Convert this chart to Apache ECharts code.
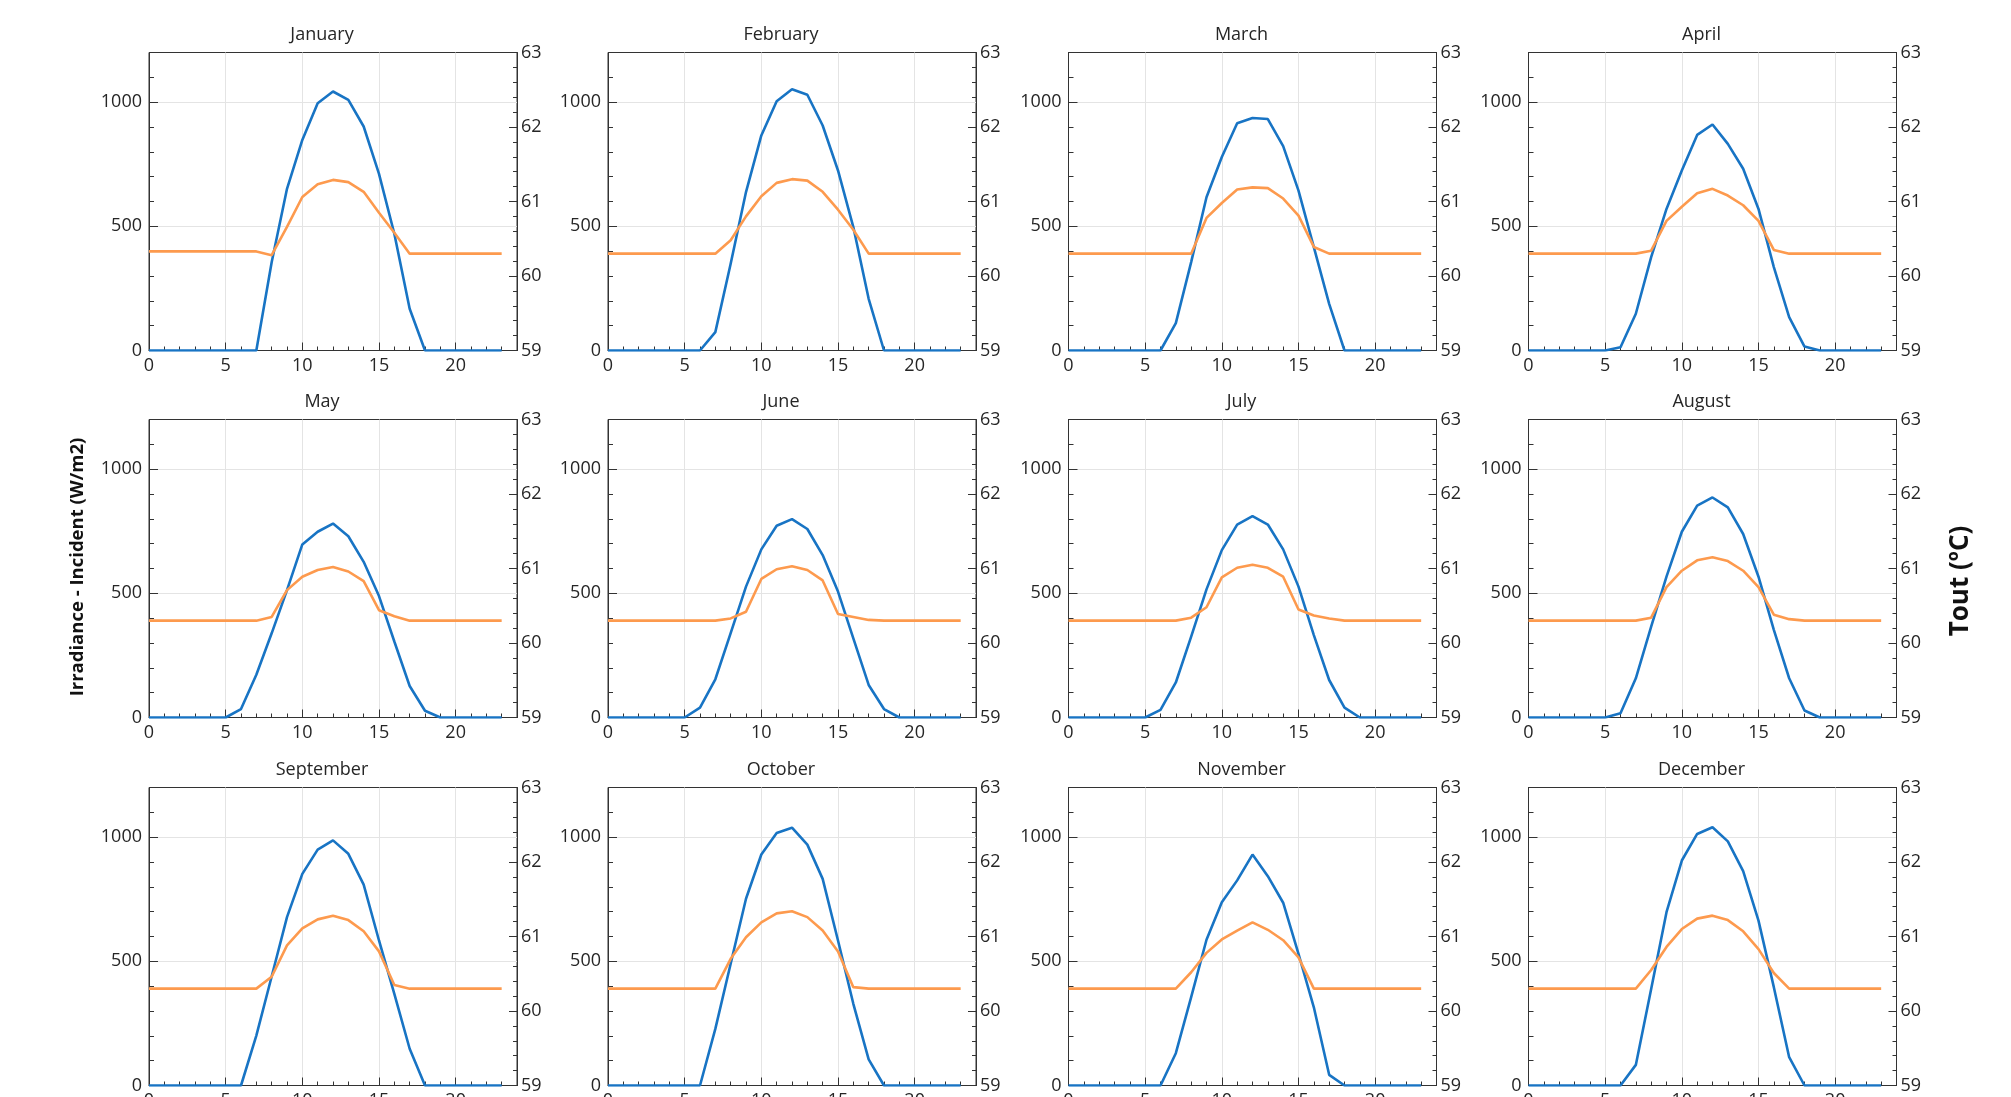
<!DOCTYPE html>
<html>
<head>
<meta charset="utf-8">
<title>Irradiance and Tout by month</title>
<script src="https://cdn.jsdelivr.net/npm/echarts@6.0.0/dist/echarts.min.js"></script>
<style>
  html, body { margin: 0; padding: 0; background: #fff; }
  #chart { width: 2011px; height: 1097px; }
</style>
</head>
<body>
<div id="chart"></div>
<script>
const months = ['January', 'February', 'March', 'April', 'May', 'June',
  'July', 'August', 'September', 'October', 'November', 'December'];
const hours = [0, 1, 2, 3, 4, 5, 6, 7, 8, 9, 10, 11, 12, 13, 14, 15, 16, 17, 18, 19, 20, 21, 22, 23];

// Irradiance - Incident (W/m2), hourly
const irrJan = [0, 0, 0, 0, 0, 0, 0, 0, 355, 651, 848, 996, 1043, 1009, 902, 711, 470, 168, 0, 0, 0, 0, 0, 0];
const irrFeb = [0, 0, 0, 0, 0, 0, 0, 74, 349, 638, 866, 1004, 1052, 1030, 906, 725, 497, 208, 0, 0, 0, 0, 0, 0];
const irrMar = [0, 0, 0, 0, 0, 0, 0, 110, 356, 617, 779, 915, 936, 932, 823, 644, 416, 188, 0, 0, 0, 0, 0, 0];
const irrApr = [0, 0, 0, 0, 0, 0, 13, 148, 376, 570, 725, 868, 910, 832, 732, 570, 336, 134, 16, 0, 0, 0, 0, 0];
const irrMay = [0, 0, 0, 0, 0, 0, 34, 172, 339, 513, 697, 748, 781, 730, 627, 489, 306, 127, 27, 0, 0, 0, 0, 0];
const irrJun = [0, 0, 0, 0, 0, 0, 40, 154, 340, 527, 677, 772, 799, 759, 654, 507, 319, 131, 34, 0, 0, 0, 0, 0];
const irrJul = [0, 0, 0, 0, 0, 0, 31, 141, 326, 516, 674, 777, 811, 777, 677, 527, 332, 151, 40, 0, 0, 0, 0, 0];
const irrAug = [0, 0, 0, 0, 0, 0, 17, 158, 366, 567, 748, 853, 886, 846, 739, 567, 353, 158, 28, 0, 0, 0, 0, 0];
const irrSep = [0, 0, 0, 0, 0, 0, 0, 201, 439, 678, 852, 950, 987, 933, 809, 584, 369, 148, 0, 0, 0, 0, 0, 0];
const irrOct = [0, 0, 0, 0, 0, 0, 0, 228, 490, 752, 930, 1017, 1038, 970, 832, 584, 329, 105, 0, 0, 0, 0, 0, 0];
const irrNov = [0, 0, 0, 0, 0, 0, 0, 130, 356, 587, 738, 826, 930, 843, 736, 530, 315, 43, 0, 0, 0, 0, 0, 0];
const irrDec = [0, 0, 0, 0, 0, 0, 0, 83, 389, 698, 906, 1013, 1040, 983, 863, 664, 396, 114, 0, 0, 0, 0, 0, 0];

// Tout (ºC), hourly
const toutJan = [60.33, 60.33, 60.33, 60.33, 60.33, 60.33, 60.33, 60.33, 60.28, 60.66, 61.06, 61.23, 61.29, 61.26, 61.13, 60.85, 60.58, 60.30, 60.30, 60.30, 60.30, 60.30, 60.30, 60.30];
const toutFeb = [60.30, 60.30, 60.30, 60.30, 60.30, 60.30, 60.30, 60.30, 60.48, 60.80, 61.07, 61.25, 61.30, 61.28, 61.13, 60.89, 60.62, 60.30, 60.30, 60.30, 60.30, 60.30, 60.30, 60.30];
const toutMar = [60.30, 60.30, 60.30, 60.30, 60.30, 60.30, 60.30, 60.30, 60.30, 60.78, 60.98, 61.16, 61.19, 61.18, 61.04, 60.81, 60.39, 60.30, 60.30, 60.30, 60.30, 60.30, 60.30, 60.30];
const toutApr = [60.30, 60.30, 60.30, 60.30, 60.30, 60.30, 60.30, 60.30, 60.34, 60.74, 60.93, 61.11, 61.17, 61.08, 60.95, 60.74, 60.35, 60.30, 60.30, 60.30, 60.30, 60.30, 60.30, 60.30];
const toutMay = [60.30, 60.30, 60.30, 60.30, 60.30, 60.30, 60.30, 60.30, 60.35, 60.71, 60.89, 60.98, 61.02, 60.96, 60.83, 60.44, 60.36, 60.30, 60.30, 60.30, 60.30, 60.30, 60.30, 60.30];
const toutJun = [60.30, 60.30, 60.30, 60.30, 60.30, 60.30, 60.30, 60.30, 60.33, 60.42, 60.86, 60.99, 61.03, 60.98, 60.84, 60.39, 60.35, 60.31, 60.30, 60.30, 60.30, 60.30, 60.30, 60.30];
const toutJul = [60.30, 60.30, 60.30, 60.30, 60.30, 60.30, 60.30, 60.30, 60.34, 60.48, 60.88, 61.01, 61.05, 61.01, 60.89, 60.45, 60.37, 60.33, 60.30, 60.30, 60.30, 60.30, 60.30, 60.30];
const toutAug = [60.30, 60.30, 60.30, 60.30, 60.30, 60.30, 60.30, 60.30, 60.34, 60.75, 60.97, 61.11, 61.15, 61.10, 60.97, 60.75, 60.38, 60.32, 60.30, 60.30, 60.30, 60.30, 60.30, 60.30];
const toutSep = [60.30, 60.30, 60.30, 60.30, 60.30, 60.30, 60.30, 60.30, 60.46, 60.88, 61.11, 61.23, 61.28, 61.22, 61.07, 60.80, 60.35, 60.30, 60.30, 60.30, 60.30, 60.30, 60.30, 60.30];
const toutOct = [60.30, 60.30, 60.30, 60.30, 60.30, 60.30, 60.30, 60.30, 60.70, 60.99, 61.19, 61.31, 61.34, 61.26, 61.08, 60.80, 60.32, 60.30, 60.30, 60.30, 60.30, 60.30, 60.30, 60.30];
const toutNov = [60.30, 60.30, 60.30, 60.30, 60.30, 60.30, 60.30, 60.30, 60.52, 60.78, 60.96, 61.08, 61.19, 61.09, 60.95, 60.72, 60.30, 60.30, 60.30, 60.30, 60.30, 60.30, 60.30, 60.30];
const toutDec = [60.30, 60.30, 60.30, 60.30, 60.30, 60.30, 60.30, 60.30, 60.55, 60.86, 61.10, 61.24, 61.28, 61.22, 61.07, 60.83, 60.51, 60.30, 60.30, 60.30, 60.30, 60.30, 60.30, 60.30];

const irradiance = [irrJan, irrFeb, irrMar, irrApr, irrMay, irrJun, irrJul, irrAug, irrSep, irrOct, irrNov, irrDec];
const tout = [toutJan, toutFeb, toutMar, toutApr, toutMay, toutJun, toutJul, toutAug, toutSep, toutOct, toutNov, toutDec];

// tick labels
const xTickLabels = [0, 5, 10, 15, 20];
const leftTickLabels = [0, 500, 1000];
const rightTickLabels = [59, 60, 61, 62, 63];

// half-pixel tops keep the 1px frame crisp
const colLeft = [149, 608, 1068.5, 1528.5];
const rowTop = [52.5, 419.5, 787.5];
const plotW = 368;
const plotH = 298;

const axisColor = '#333333';
const textColor = '#262626';
const gridColor = '#e4e4e4';
const fontFamily = '"Open Sans", "Noto Sans", sans-serif';
const labelStyle = { color: textColor, fontSize: 18, fontFamily: fontFamily };

const grids = [];
const xAxes = [];
const yAxes = [];
const series = [];
const graphics = [];

months.forEach((name, i) => {
  const left = colLeft[i % 4];
  const top = rowTop[Math.floor(i / 4)];

  grids.push({
    left: left, top: top, width: plotW, height: plotH,
    show: true, borderColor: axisColor, borderWidth: 1,
    outerBoundsMode: 'none'
  });

  // major x axis: labels, long ticks, grid lines
  xAxes.push({
    type: 'value', gridIndex: i, position: 'bottom', min: 0, max: 24, interval: 5,
    axisLine: { show: true, onZero: false, lineStyle: { color: axisColor } },
    axisTick: { show: true, inside: true, length: 8, lineStyle: { color: axisColor } },
    axisLabel: Object.assign({
      margin: 6,
      formatter: (v) => xTickLabels.includes(v) ? String(v) : ''
    }, labelStyle),
    splitLine: { show: true, showMinLine: false, showMaxLine: false, lineStyle: { color: gridColor } }
  });
  // minor x axis: hourly ticks only
  xAxes.push({
    type: 'value', gridIndex: i, position: 'bottom', min: 0, max: 24, interval: 1,
    axisLine: { show: false, onZero: false },
    axisTick: { show: true, inside: true, length: 4, lineStyle: { color: axisColor } },
    axisLabel: { show: false },
    splitLine: { show: false }
  });

  yAxes.push({
    type: 'value', gridIndex: i, position: 'left', min: 0, max: 1200, interval: 500,
    axisLine: { show: true, onZero: false, lineStyle: { color: axisColor } },
    axisTick: { show: true, inside: true, length: 9, lineStyle: { color: axisColor } },
    axisLabel: Object.assign({
      margin: 7,
      formatter: (v) => leftTickLabels.includes(v) ? String(v) : ''
    }, labelStyle),
    splitLine: { show: true, showMinLine: false, showMaxLine: false, lineStyle: { color: gridColor } }
  });
  yAxes.push({
    type: 'value', gridIndex: i, position: 'left', min: 0, max: 1200, interval: 100,
    axisLine: { show: false, onZero: false },
    axisTick: { show: true, inside: true, length: 5, lineStyle: { color: axisColor } },
    axisLabel: { show: false },
    splitLine: { show: false }
  });
  yAxes.push({
    type: 'value', gridIndex: i, position: 'right', min: 59, max: 63, interval: 1,
    axisLine: { show: true, onZero: false, lineStyle: { color: axisColor } },
    axisTick: { show: true, inside: true, length: 8, lineStyle: { color: axisColor } },
    minorTick: { show: true, splitNumber: 5, length: 4, lineStyle: { color: axisColor } },
    axisLabel: Object.assign({
      margin: 4,
      formatter: (v) => rightTickLabels.includes(v) ? String(v) : ''
    }, labelStyle),
    splitLine: { show: false }
  });

  series.push({
    name: 'Irradiance - Incident (W/m2)', type: 'line',
    xAxisIndex: i * 2, yAxisIndex: i * 3,
    data: hours.map((h, k) => [h, irradiance[i][k]]),
    showSymbol: false, silent: true,
    lineStyle: { color: '#1874c4', width: 2.6 }
  });
  series.push({
    name: 'Tout (ºC)', type: 'line',
    xAxisIndex: i * 2, yAxisIndex: i * 3 + 2,
    data: hours.map((h, k) => [h, tout[i][k]]),
    showSymbol: false, silent: true,
    lineStyle: { color: '#fd9a4e', width: 2.6 }
  });

  graphics.push({
    type: 'text', x: left + plotW / 2 - 11, y: top - 18,
    style: {
      text: name, fill: textColor, font: '18px ' + fontFamily,
      textAlign: 'center', textVerticalAlign: 'middle'
    }
  });
});

graphics.push({
  type: 'text', x: 78, y: 567, rotation: Math.PI / 2,
  style: {
    text: 'Irradiance - Incident (W/m2)', fill: '#111',
    font: 'bold 18.5px ' + fontFamily, textAlign: 'center', textVerticalAlign: 'middle'
  }
});
graphics.push({
  type: 'text', x: 1961, y: 581, rotation: Math.PI / 2,
  style: {
    text: 'Tout (ºC)', fill: '#111',
    font: 'bold 26px ' + fontFamily, textAlign: 'center', textVerticalAlign: 'middle'
  }
});

const chart = echarts.init(document.getElementById('chart'));
chart.setOption({
  animation: false,
  backgroundColor: '#ffffff',
  grid: grids,
  xAxis: xAxes,
  yAxis: yAxes,
  series: series,
  graphic: graphics
});
</script>
</body>
</html>
